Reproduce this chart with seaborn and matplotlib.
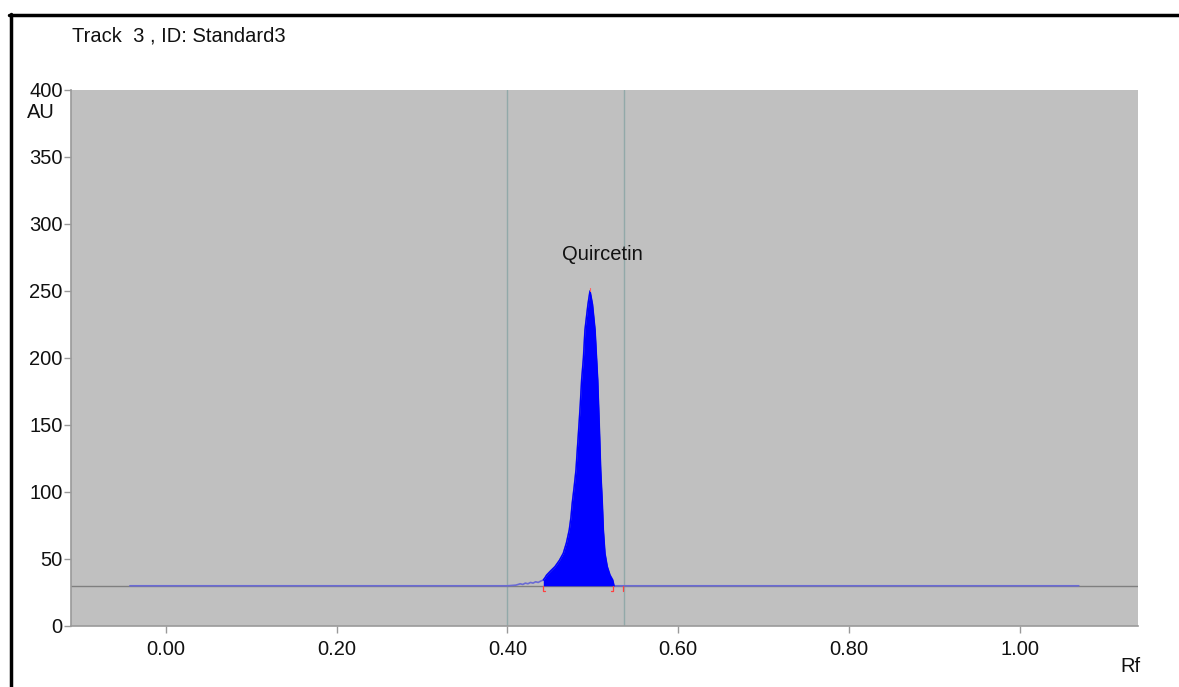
import numpy as np
import pandas as pd
import matplotlib
matplotlib.use("Agg")
import matplotlib.pyplot as plt
from matplotlib.lines import Line2D
import seaborn as sns

# ---- data ----
rf = [-0.042, 0.400, 0.410, 0.415, 0.418, 0.421, 0.424, 0.427, 0.430, 0.433,
      0.436, 0.439,
      0.4420, 0.4440, 0.4459, 0.4504, 0.4557, 0.4609, 0.4654, 0.4691, 0.4724,
      0.4744, 0.4759, 0.4782, 0.4803, 0.4820, 0.4838, 0.4853, 0.4869, 0.4890,
      0.4908, 0.4943, 0.4967, 0.4996, 0.5026, 0.5057, 0.5076, 0.5092, 0.5111,
      0.5123, 0.5142, 0.5169, 0.5201, 0.5233, 0.5248,
      0.535, 1.069]
au = [30, 30, 30.5, 31.5, 31, 32, 31.5, 32.5, 32, 33,
      32.5, 33.5,
      34.3, 36, 38, 41, 44.3, 49, 54.2, 62, 71.6,
      81, 91.6, 104, 116.4, 133, 150, 165, 183.6, 200,
      220.9, 240, 250, 240, 220.9, 183.6, 148.7, 116.4, 91.6,
      71.6, 54.2, 44.3, 38, 34.3, 30,
      30, 30]
baseline = 30
peak_start, peak_end = 0.442, 0.5248
window_lines = [0.400, 0.536]
peak_label = "Quircetin"
peak_label_pos = (0.5107, 277)
x_ticks = [0.0, 0.2, 0.4, 0.6, 0.8, 1.0]
x_ticklabels = ["0.00", "0.20", "0.40", "0.60", "0.80", "1.00"]
y_ticks = [0, 50, 100, 150, 200, 250, 300, 350, 400]
title = "Track  3 , ID: Standard3"

df = pd.DataFrame({"Rf": rf, "AU": au})
peak = df[(df["Rf"] >= peak_start) & (df["Rf"] <= peak_end)]

sns.set_style("white", {"axes.facecolor": "#c0c0c0"})
plt.rcParams["font.family"] = ["Liberation Sans", "DejaVu Sans"]
FS = 14.5

fig = plt.figure(figsize=(11.79, 6.87), dpi=100)
ax = fig.add_axes([0.0602, 0.0888, 0.9048, 0.7802])
ax.set_facecolor("#c0c0c0")

# window lines
for wx in window_lines:
    ax.axvline(wx, color="#92a9a9", lw=1.0, zorder=1)
# baseline grey line
ax.axhline(baseline, color="#7f7f7f", lw=1.0, zorder=2)

# signal line and filled peak
sns.lineplot(data=df, x="Rf", y="AU", ax=ax, color="#6a6ad4", lw=1.2,
             zorder=3, sort=False)
ax.fill_between(peak["Rf"], baseline, peak["AU"], color="#0000ff",
                lw=0, zorder=4)
sns.lineplot(data=peak, x="Rf", y="AU", ax=ax, color="#0000ff", lw=1.0,
             zorder=5, sort=False)

# red integration markers
for px, d in [(peak_start, 1), (peak_end - 0.001, -1)]:
    ax.plot([px, px, px + d * 0.002], [baseline, baseline - 4, baseline - 4],
            color="#ff4040", lw=0.9, zorder=6)
ax.plot([0.535, 0.535], [baseline, baseline - 4], color="#ff4040", lw=0.9, zorder=6)
ax.plot([0.4967, 0.4967], [250, 252], color="#ff6060", lw=0.8, zorder=6)

ax.text(*peak_label_pos, peak_label, ha="center", va="center", fontsize=FS,
        color="#111111")

ax.set_xlim(-0.111, 1.138)
ax.set_ylim(0, 400)
ax.set_xticks(x_ticks)
ax.set_xticklabels(x_ticklabels)
ax.set_yticks(y_ticks)
ax.set_xlabel("")
ax.set_ylabel("")
ax.tick_params(axis="both", labelsize=FS, colors="#999999", labelcolor="#111111",
               length=5, width=1, left=True, bottom=True)
ax.tick_params(axis="x", pad=5)
ax.tick_params(axis="y", pad=1)
for s in ["top", "right"]:
    ax.spines[s].set_visible(False)
for s in ["left", "bottom"]:
    ax.spines[s].set_color("#9a9a9a")
    ax.spines[s].set_linewidth(1.2)

# axis unit labels
fig.text(41 / 1179, 1 - 112 / 687, "AU", ha="center", va="center",
         fontsize=FS, color="#111111")
fig.text(1130 / 1179, 1 - 667 / 687, "Rf", ha="center", va="center",
         fontsize=FS, color="#111111")
fig.text(72 / 1179, 1 - 36 / 687, title, ha="left", va="center",
         fontsize=FS, color="#111111")

# frame lines (top and left)
fig.add_artist(Line2D([9 / 1179, 1.0], [1 - 15 / 687, 1 - 15 / 687],
                      color="black", lw=2.5, transform=fig.transFigure))
fig.add_artist(Line2D([10.5 / 1179, 10.5 / 1179], [0, 1 - 13.5 / 687],
                      color="black", lw=2.5, transform=fig.transFigure))

fig.savefig("out.png", dpi=100, facecolor="white")
